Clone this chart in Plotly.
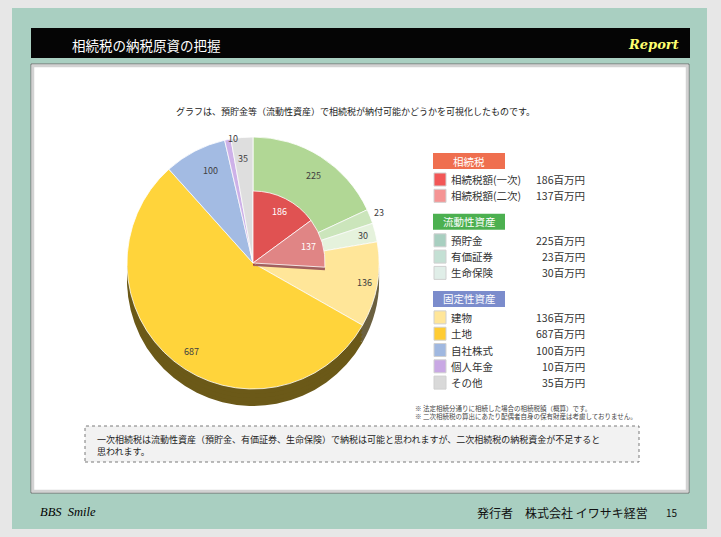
import math
import plotly.graph_objects as go

W, H = 721, 537

# データ（百万円）
tax_names = ['相続税額(一次)', '相続税額(二次)']
tax_values = [186, 137]
liquid_names = ['預貯金', '有価証券', '生命保険']
liquid_values = [225, 23, 30]
fixed_names = ['建物', '土地', '自社株式', '個人年金', 'その他']
fixed_values = [136, 687, 100, 10, 35]

group_titles = ['相続税', '流動性資産', '固定性資産']
unit = '百万円'

# 色
tax_colors = ['#e05252', '#e08585']
liquid_colors = ['#b1d795', '#cbe5bb', '#e5f2dc']
fixed_colors = ['#ffe699', '#ffd43b', '#a3bbe3', '#cdb1e8', '#dedede']
tax_swatch = ['#f25757', '#f59494']
liquid_swatch = ['#a8cfc0', '#c4e0d4', '#e0eee8']
fixed_swatch = ['#ffe699', '#ffcc33', '#a0b8e0', '#c9a8e4', '#d9d9d9']
group_colors = ['#ef6f4f', '#4cb050', '#7b8ccc']

font_jp = 'Noto Sans CJK JP'

# 円グラフの位置（ピクセル）
CX, CY = 253, 263
R_OUT = 126
R_IN = 72
DEPTH = 17


def px(x):
    return x / W


def py(y):
    return 1 - y / H


def darker(c, k):
    c = c.lstrip('#')
    r, g, b = (int(c[i:i + 2], 16) for i in (0, 2, 4))
    return 'rgb({},{},{})'.format(int(r * k), int(g * k), int(b * k))


def pie_domain(r, dy=0):
    return dict(x=[px(CX - r), px(CX + r)], y=[py(CY + dy + r), py(CY + dy - r)])


pie_values = liquid_values + fixed_values
pie_colors = liquid_colors + fixed_colors
total = sum(pie_values)

inner_values = tax_values + [total - sum(tax_values)]
inner_colors = tax_colors + ['rgba(0,0,0,0)']

fig = go.Figure()

# 側面（厚み）
for d in [DEPTH, 13, 9, 5]:
    fig.add_trace(go.Pie(values=pie_values, sort=False, direction='clockwise', rotation=0,
                         marker=dict(colors=[darker(c, 0.42) for c in pie_colors], line=dict(width=0)),
                         textinfo='none', hoverinfo='skip', showlegend=False, domain=pie_domain(R_OUT, d)))

# 上面
fig.add_trace(go.Pie(values=pie_values, labels=liquid_names + fixed_names, sort=False,
                     direction='clockwise', rotation=0,
                     marker=dict(colors=pie_colors, line=dict(color='white', width=0.8)),
                     textinfo='none', showlegend=False, domain=pie_domain(R_OUT)))

# 相続税（内側）
fig.add_trace(go.Pie(values=inner_values, sort=False, direction='clockwise', rotation=0,
                     marker=dict(colors=[darker(c, 0.72) for c in tax_colors] + ['rgba(0,0,0,0)'],
                                 line=dict(width=0)),
                     textinfo='none', hoverinfo='skip', showlegend=False, domain=pie_domain(R_IN, 3)))
fig.add_trace(go.Pie(values=inner_values, labels=tax_names + [''], sort=False,
                     direction='clockwise', rotation=0,
                     marker=dict(colors=inner_colors, line=dict(color='white', width=[0.8, 0.8, 0])),
                     textinfo='none', hoverinfo='skip', showlegend=False, domain=pie_domain(R_IN)))

annotations = []
shapes = []


def label_at(values, r, factor_fn, color):
    cum = 0
    for v in values:
        a = math.radians((cum + v / 2) / total * 360)
        f = factor_fn(v)
        annotations.append(dict(x=px(CX + r * f * math.sin(a)), y=py(CY - r * f * math.cos(a)),
                                xref='paper', yref='paper', text=str(v), showarrow=False,
                                font=dict(family=font_jp, size=9, color=color)))
        cum += v


label_at(pie_values, R_OUT, lambda v: 1.08 if v / total < 0.02 else 0.9, '#404040')
label_at(tax_values, R_IN, lambda v: 0.8, 'white')


def text(x, y, s, size=10, color='#333333', anchor='left', family=font_jp):
    annotations.append(dict(x=px(x), y=py(y), xref='paper', yref='paper', text=s, showarrow=False,
                            xanchor=anchor, yanchor='middle', align=anchor if anchor != 'center' else 'center',
                            font=dict(family=family, size=size, color=color)))


def rect(x0, y0, x1, y1, fill, line=None, lw=0, dash=None, layer='below'):
    shapes.append(dict(type='rect', xref='paper', yref='paper', x0=px(x0), x1=px(x1), y0=py(y1), y1=py(y0),
                       fillcolor=fill, layer=layer,
                       line=dict(color=line or fill, width=lw, dash=dash)))


# 背景
rect(12, 8, 707, 529, '#a9cfc1')
rect(31, 28, 690, 58, '#050505')
rect(31, 64, 689, 493, 'white', '#6e6e6e', 1)
rect(33, 66, 687, 491, 'rgba(0,0,0,0)', '#d2d2d2', 2.5)
rect(85, 426, 639, 462, '#f2f2f2', '#7a7a7a', 1, 'dot')

text(70, 45, '相続税の納税原資の把握', 13.5, 'white')
text(681, 45, '<b><i>Report</i></b>', 13, '#ffff70', 'right', 'DejaVu Serif')
text(355, 111, 'グラフは、預貯金等（流動性資産）で相続税が納付可能かどうかを可視化したものです。', 9, '#222222', 'center')

# 凡例
groups = [(tax_names, tax_values, tax_swatch), (liquid_names, liquid_values, liquid_swatch),
          (fixed_names, fixed_values, fixed_swatch)]
y = 161
for title, color, (names, values, sw) in zip(group_titles, group_colors, groups):
    rect(433, y - 8, 505, y + 8, color, layer='above')
    text(469, y, title, 10.5, 'white', 'center')
    y += 18.5
    for n, v, c in zip(names, values, sw):
        rect(434, y - 6.5, 446, y + 6.5, c, '#d0d0d0', 1, layer='above')
        text(449, y, n, 10.5)
        text(587, y, '{}{}'.format(v, unit), 10.5, '#333333', 'right')
        y += 16.3
    y += 26 - 16.3

text(413, 412, '※ 法定相続分通りに相続した場合の相続税額（概算）です。<br>'
               '※ 二次相続税の算出にあたり配偶者自身の保有財産は考慮しておりません。', 6.5, '#444444')

annotations.append(dict(x=px(95), y=py(431), xref='paper', yref='paper', showarrow=False,
                        xanchor='left', yanchor='top', align='left',
                        text='一次相続税は流動性資産（預貯金、有価証券、生命保険）で納税は可能と思われますが、二次相続税の納税資金が不足すると<br>思われます。',
                        font=dict(family=font_jp, size=9, color='#222222')))

# フッター
text(38, 512, '<i>BBS  Smile</i>', 12.5, 'black', 'left', 'Liberation Serif')
text(650, 512, '発行者　株式会社 イワサキ経営', 12, '#111111', 'right')
text(672, 512, '15', 10, '#111111', 'center')

fig.update_layout(width=W, height=H, margin=dict(l=0, r=0, t=0, b=0),
                  paper_bgcolor='#e7e7e7', plot_bgcolor='#e7e7e7',
                  shapes=shapes, annotations=annotations)

fig.write_html('out.html', config={'displayModeBar': False},
               post_script="document.body.style.margin='0';")
